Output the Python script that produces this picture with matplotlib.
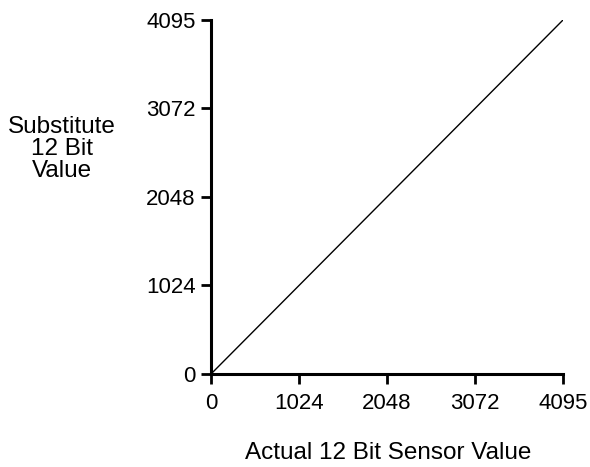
import matplotlib
matplotlib.use("Agg")
import matplotlib.pyplot as plt

# actual sensor reading vs substituted 12 bit value
actual = [0, 4095]
substitute = [0, 4095]
ticks = [0, 1024, 2048, 3072, 4095]

plt.rcParams['font.family'] = ['Liberation Sans', 'DejaVu Sans']

fig = plt.figure(figsize=(5.9, 4.67), dpi=100)
ax = fig.add_axes([211/590, 1 - 374/467, (563 - 211)/590, (374 - 20)/467])

ax.plot(actual, substitute, color='black', linewidth=1.0)

ax.set_xlim(0, 4095)
ax.set_ylim(0, 4095)
ax.set_xticks(ticks)
ax.set_yticks(ticks)
ax.tick_params(direction='out', length=7, width=2, labelsize=16)
ax.tick_params(axis='x', pad=7)
ax.tick_params(axis='y', pad=4)

for side in ['top', 'right']:
    ax.spines[side].set_visible(False)
for side in ['left', 'bottom']:
    ax.spines[side].set_linewidth(2.2)

fig.text(62/590, 1 - 149/467, "Substitute\n12 Bit\nValue", ha='center', va='center',
         fontsize=17.5, linespacing=1.0)
fig.text(388/590, 1 - 453/467, "Actual 12 Bit Sensor Value", ha='center', va='center',
         fontsize=17.5)

fig.savefig("out.png", dpi=100)
